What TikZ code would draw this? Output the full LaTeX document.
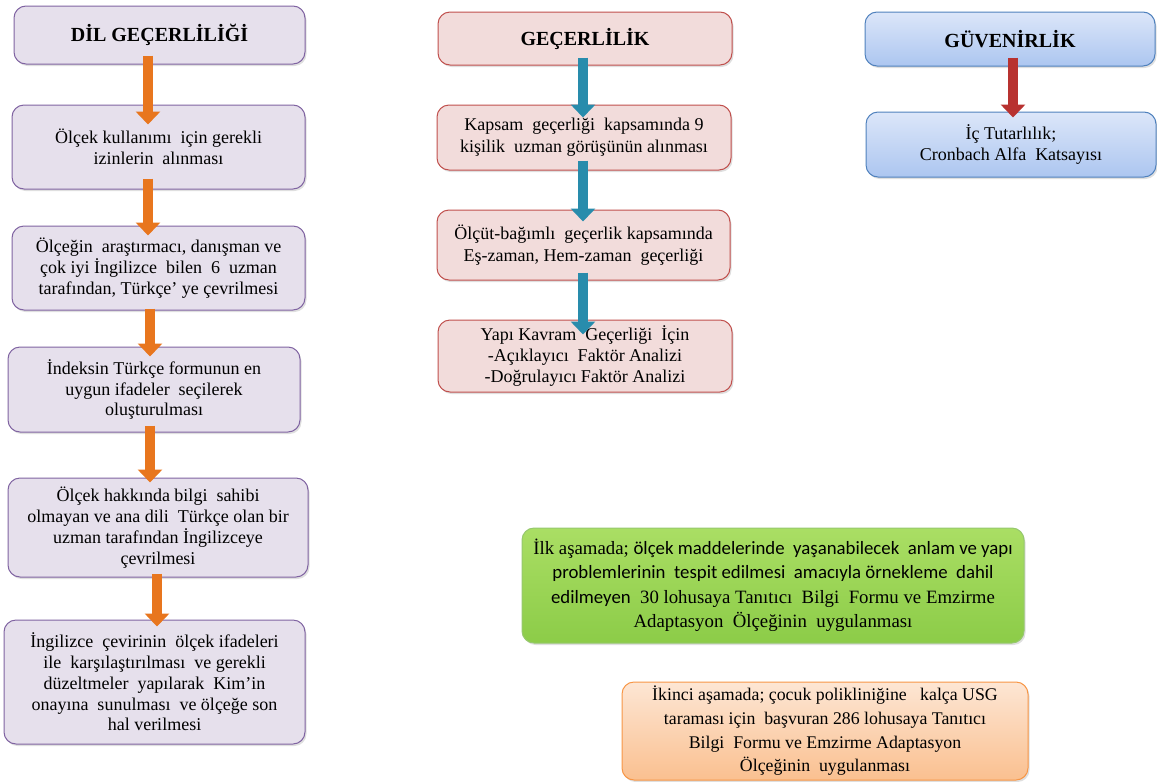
\documentclass[tikz,border=0pt]{standalone}
\usepackage{fontspec}
\setmainfont{Liberation Serif}
\newfontfamily\calib{Carlito}
\usetikzlibrary{arrows.meta,shadows}
\definecolor{lavfill}{RGB}{230,224,236}
\definecolor{lavline}{RGB}{128,100,162}
\definecolor{pinkfill}{RGB}{242,220,219}
\definecolor{pinkline}{RGB}{192,80,77}
\definecolor{bluetop}{RGB}{220,230,249}
\definecolor{bluebot}{RGB}{172,198,240}
\definecolor{blueline}{RGB}{79,129,189}
\definecolor{greentop}{RGB}{170,222,100}
\definecolor{greenbot}{RGB}{140,204,72}
\definecolor{greenline}{RGB}{150,200,110}
\definecolor{orgtop}{RGB}{253,230,212}
\definecolor{orgbot}{RGB}{250,192,144}
\definecolor{orgline}{RGB}{247,150,70}
\definecolor{oarrow}{RGB}{232,118,30}
\definecolor{oshine}{RGB}{248,160,80}
\definecolor{barrow}{RGB}{40,140,172}
\definecolor{bshine}{RGB}{90,185,212}
\definecolor{rarrow}{RGB}{184,50,48}
\definecolor{rshine}{RGB}{215,90,86}
\tikzset{
  box/.style={rounded corners=12pt, line width=1pt, align=center, inner sep=2pt,
    font=\fontsize{18}{20.8}\selectfont,
    drop shadow={opacity=0.25, shadow xshift=1.5pt, shadow yshift=-2pt}},
  lbox/.style={box, draw=lavline, fill=lavfill},
  pbox/.style={box, draw=pinkline, fill=pinkfill},
  bbox/.style={box, draw=blueline, top color=bluetop, bottom color=bluebot},
  gbox/.style={box, draw=greenline, top color=greentop, bottom color=greenbot, font=\fontsize{18.8}{24.5}\selectfont},
  obox/.style={box, draw=orgline, top color=orgtop, bottom color=orgbot, font=\fontsize{17.8}{23.7}\selectfont},
  title/.style={font=\fontsize{20}{24}\selectfont\bfseries},
  blockarrow/.style={line width=10.5pt, -{Triangle[width=24pt,length=13pt]}},
  oarr/.style={blockarrow, draw=oarrow},
  barr/.style={blockarrow, draw=barrow},
  rarr/.style={blockarrow, draw=rarrow},
}
\begin{document}
\begin{tikzpicture}[x=1pt,y=-1pt]
\useasboundingbox (0,0) rectangle (1157,782);
% left column
\node[lbox, title, minimum width=291pt, minimum height=58pt] (d0) at (159.5,35) {DİL GEÇERLİLİĞİ};
\node[lbox, minimum width=293pt, minimum height=84pt] (d1) at (158.5,147) {Ölçek kullanımı\ \ için gerekli\\izinlerin\ \ alınması};
\node[lbox, minimum width=293pt, minimum height=84pt] (d2) at (158.5,268) {Ölçeğin\ \ araştırmacı, danışman ve\\çok iyi İngilizce\ \ bilen\ \ 6\ \ uzman\\tarafından, Türkçe' ye çevrilmesi};
\node[lbox, minimum width=292pt, minimum height=85pt] (d3) at (154,389.5) {İndeksin Türkçe formunun en\\uygun ifadeler\ \ seçilerek\\oluşturulması};
\node[lbox, minimum width=300pt, minimum height=99pt] (d4) at (158,527.5) {Ölçek hakkında bilgi\ \ sahibi\\olmayan ve ana dili\ \ Türkçe olan bir\\uzman tarafından İngilizceye\\çevrilmesi};
\node[lbox, minimum width=301pt, minimum height=124pt] (d5) at (154.5,682) {İngilizce\ \ çevirinin\ \ ölçek ifadeleri\\ile\ \ karşılaştırılması\ \ ve gerekli\\düzeltmeler\ \ yapılarak\ \ Kim'in\\onayına\ \ sunulması\ \ ve ölçeğe son\\hal verilmesi};
% middle column
\node[pbox, title, minimum width=294pt, minimum height=53pt] (g0) at (585,38.5) {GEÇERLİLİK};
\node[pbox, minimum width=294pt, minimum height=65pt, font=\fontsize{18}{22}\selectfont] (g1) at (584,137.5) {Kapsam\ \ geçerliği\ \ kapsamında 9\\kişilik\ \ uzman görüşünün alınması};
\node[pbox, minimum width=293pt, minimum height=70pt, font=\fontsize{18}{22}\selectfont] (g2) at (583.5,245) {Ölçüt-bağımlı\ \ geçerlik kapsamında\\Eş-zaman, Hem-zaman\ \ geçerliği};
\node[pbox, minimum width=294pt, minimum height=72pt] (g3) at (585,356) {Yapı Kavram\ \ Geçerliği\ \ İçin\\-Açıklayıcı\ \ Faktör Analizi\\-Doğrulayıcı Faktör Analizi};
% right column
\node[bbox, title, minimum width=290pt, minimum height=54pt] (r0) at (1010,39) {GÜVENİRLİK};
\node[bbox, minimum width=290pt, minimum height=65pt] (r1) at (1011,144.5) {İç Tutarlılık;\\Cronbach Alfa\ \ Katsayısı};
% bottom boxes
\node[gbox, minimum width=502pt, minimum height=115pt] (gr) at (773,585.5) {İlk aşamada; {\calib ölçek maddelerinde\ \ yaşanabilecek\ \ anlam ve yapı}\\{\calib problemlerinin\ \ tespit edilmesi\ \ amacıyla örnekleme\ \ dahil}\\{\calib edilmeyen}\ \ 30 lohusaya Tanıtıcı\ \ Bilgi\ \ Formu ve Emzirme\\Adaptasyon\ \ Ölçeğinin\ \ uygulanması};
\node[obox, minimum width=406pt, minimum height=98pt] (or) at (825,731) {İkinci aşamada; çocuk polikliniğine\ \ \ kalça USG\\taraması için\ \ başvuran 286 lohusaya Tanıtıcı\\Bilgi\ \ Formu ve Emzirme Adaptasyon\\Ölçeğinin\ \ uygulanması};
% arrows
\draw[oarr] ([xshift=-11.5pt,yshift=9pt]d0.south) -- ([xshift=-10.5pt,yshift=-20pt]d1.north);
\draw[oarr] ([xshift=-10.5pt,yshift=11pt]d1.south) -- ([xshift=-10.5pt,yshift=-10pt]d2.north);
\draw[oarr] ([xshift=-8.5pt,yshift=2pt]d2.south) -- ([xshift=-4pt,yshift=-10pt]d3.north);
\draw[oarr] ([xshift=-4pt,yshift=7pt]d3.south) -- ([xshift=-8pt,yshift=-5pt]d4.north);
\draw[oarr] ([xshift=-1pt,yshift=4pt]d4.south) -- ([xshift=2.5pt,yshift=-7pt]d5.north);
\draw[barr] ([xshift=-2pt,yshift=8pt]g0.south) -- ([xshift=-1pt,yshift=-13pt]g1.north);
\draw[barr] ([xshift=-1pt,yshift=10pt]g1.south) -- ([xshift=-0.5pt,yshift=-12pt]g2.north);
\draw[barr] ([xshift=-0.5pt,yshift=8pt]g2.south) -- ([xshift=-2pt,yshift=-15pt]g3.north);
\draw[rarr] ([xshift=3pt,yshift=9pt]r0.south) -- ([xshift=2pt,yshift=-6pt]r1.north);
\end{tikzpicture}
\end{document}
